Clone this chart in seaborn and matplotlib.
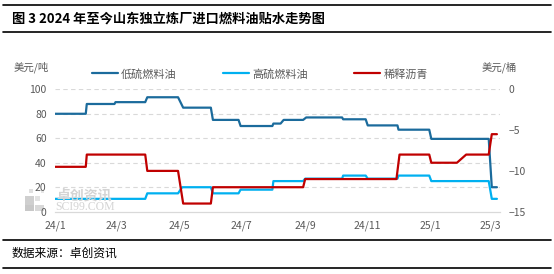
import matplotlib
matplotlib.use("Agg")
import matplotlib.pyplot as plt
from matplotlib.lines import Line2D
from matplotlib.patches import Rectangle
import seaborn as sns
import pandas as pd

sns.set_theme(style="white")
plt.rcParams['font.family'] = ['Noto Sans CJK SC', 'DejaVu Sans']

title = "图 3 2024 年至今山东独立炼厂进口燃料油贴水走势图"
source = "数据来源：卓创资讯"
left_unit = "美元/吨"
right_unit = "美元/桶"
series_names = ["低硫燃料油", "高硫燃料油", "稀释沥青"]

ls_dates = ["2024-01-01", "2024-01-31", "2024-02-01", "2024-02-28", "2024-02-29", "2024-03-29",
            "2024-03-31", "2024-04-30", "2024-05-05", "2024-06-01", "2024-06-03", "2024-06-28",
            "2024-06-30", "2024-07-31", "2024-08-01", "2024-08-08", "2024-08-11", "2024-08-30",
            "2024-09-02", "2024-10-07", "2024-10-08", "2024-10-30", "2024-11-01", "2024-11-30",
            "2024-12-01", "2024-12-31", "2025-01-02", "2025-02-27", "2025-03-02", "2025-03-07"]
ls_vals = [80, 80, 88, 88, 89.5, 89.5, 93.5, 93.5, 85, 85, 75, 75, 70, 70, 72, 72, 75, 75,
           77, 77, 75.5, 75.5, 70.5, 70.5, 67, 67, 59.5, 59.5, 20, 20]

hs_dates = ["2024-01-01", "2024-03-29", "2024-03-31", "2024-04-30", "2024-05-04", "2024-06-01",
            "2024-06-03", "2024-06-28", "2024-06-30", "2024-07-31", "2024-08-01", "2024-08-30",
            "2024-09-01", "2024-10-07", "2024-10-08", "2024-10-30", "2024-11-01", "2024-11-30",
            "2024-12-01", "2024-12-31", "2025-01-02", "2025-02-27", "2025-03-02", "2025-03-07"]
hs_vals = [10.5, 10.5, 15, 15, 20, 20, 15, 15, 18, 18, 25, 25, 27, 27, 29.5, 29.5, 27, 27,
           29.5, 29.5, 25, 25, 10.5, 10.5]

bit_dates = ["2024-01-01", "2024-01-31", "2024-02-01", "2024-03-29", "2024-03-31", "2024-04-30",
             "2024-05-05", "2024-06-01", "2024-06-03", "2024-08-30", "2024-09-01", "2024-11-29",
             "2024-12-02", "2024-12-31", "2025-01-02", "2025-01-27", "2025-02-05", "2025-02-27",
             "2025-03-02", "2025-03-07"]
bit_vals = [-9.5, -9.5, -8, -8, -10, -10, -14, -14, -12, -12, -11, -11, -8, -8, -9, -9, -8, -8,
            -5.5, -5.5]

x_ticks = ["2024-01-01", "2024-03-01", "2024-05-01", "2024-07-01", "2024-09-01",
           "2024-11-01", "2025-01-01", "2025-03-01"]
x_labels = ["24/1", "24/3", "24/5", "24/7", "24/9", "24/11", "25/1", "25/3"]
left_ticks = [0, 20, 40, 60, 80, 100]
right_ticks = [-15, -10, -5, 0]

c_ls = "#1B6B9C"
c_hs = "#00B0F0"
c_bit = "#C00000"
txt_gray = "#595959"

df_ls = pd.DataFrame({"date": pd.to_datetime(ls_dates), "v": ls_vals})
df_hs = pd.DataFrame({"date": pd.to_datetime(hs_dates), "v": hs_vals})
df_bit = pd.DataFrame({"date": pd.to_datetime(bit_dates), "v": bit_vals})

fig = plt.figure(figsize=(5.54, 2.74), dpi=100)

# watermark (behind plot)
wm = "#D4D4D4"
for (x0, y0, w, h, c) in [(25, 196, 9, 9, "#CFCFCF"), (25, 205, 9, 6, "#C8C8C8"),
                          (35, 205, 9, 6, "#D8D8D8"), (35, 196, 5, 5, "#E2E2E2"),
                          (29, 189, 4, 4, "#E0E0E0"), (41, 190, 3, 3, "#E6E6E6")]:
    fig.add_artist(Rectangle((x0 / 554, 1 - (y0 + h) / 274), w / 554, h / 274,
                             transform=fig.transFigure, facecolor=c, edgecolor="none",
                             zorder=0))
fig.text(56 / 554, 1 - 195 / 274, "卓创资讯", fontsize=10, color=wm, va="center",
         fontweight="bold", zorder=0)
fig.text(55 / 554, 1 - 206.5 / 274, "SCI99.COM", fontsize=8.5, color=wm, va="center",
         family=["Liberation Serif", "DejaVu Serif"], zorder=0)

ax = fig.add_axes([55 / 554, 1 - 211.7 / 274, 445 / 554, (211.7 - 89.3) / 274])
ax.patch.set_alpha(0)
ax2 = ax.twinx()

sns.lineplot(data=df_ls, x="date", y="v", ax=ax, color=c_ls, linewidth=1.6,
             estimator=None, sort=False, label=series_names[0], legend=False)
sns.lineplot(data=df_hs, x="date", y="v", ax=ax, color=c_hs, linewidth=1.6,
             estimator=None, sort=False, label=series_names[1], legend=False)
sns.lineplot(data=df_bit, x="date", y="v", ax=ax2, color=c_bit, linewidth=1.6,
             estimator=None, sort=False, label=series_names[2], legend=False)

ax.set_xlim(pd.Timestamp("2024-01-01"), pd.Timestamp("2025-03-10"))
ax.set_ylim(0, 100)
ax2.set_ylim(-15, 0)
ax.set_yticks(left_ticks)
ax2.set_yticks(right_ticks)
ax.set_xticks(pd.to_datetime(x_ticks))
ax.set_xticklabels(x_labels)
ax.set_xlabel("")
ax.set_ylabel("")
ax2.set_ylabel("")

for y in left_ticks[1:]:
    ax.axhline(y, color="#D9D9D9", linewidth=0.8, linestyle=(0, (4, 3)), zorder=0)

for a in (ax, ax2):
    for s in ("left", "right", "top"):
        a.spines[s].set_visible(False)
ax.spines["bottom"].set_color("#D9D9D9")
ax.spines["bottom"].set_linewidth(0.9)
ax2.spines["bottom"].set_visible(False)

ax.tick_params(axis="y", length=0, labelsize=7.5, labelcolor=txt_gray, pad=6)
ax2.tick_params(axis="y", length=0, labelsize=7.5, labelcolor=txt_gray, pad=6)
ax.tick_params(axis="x", length=3, color="#D9D9D9", width=0.9, direction="out",
               labelsize=7.5, labelcolor=txt_gray, pad=3)

# units
fig.text(14 / 554, 1 - 67 / 274, left_unit, fontsize=7.5, color=txt_gray, va="center")
fig.text(482 / 554, 1 - 67 / 274, right_unit, fontsize=7.5, color=txt_gray, va="center")

# legend
handles = [Line2D([], [], color=c, linewidth=1.6) for c in (c_ls, c_hs, c_bit)]
fig.legend(handles, series_names, loc="center", bbox_to_anchor=(260 / 554, 1 - 74 / 274),
           ncol=3, frameon=False, fontsize=8, handlelength=2.3, handletextpad=0.3,
           columnspacing=4.2, labelcolor=txt_gray)

# title and source
fig.text(12 / 554, 1 - 18.5 / 274, title, fontsize=9.5, fontweight="bold", color="black",
         va="center")
fig.text(12 / 554, 1 - 253 / 274, source, fontsize=8.5, color="black", va="center")

for yy in (4.5, 31.5, 240, 267.5):
    fig.add_artist(Line2D([3 / 554, 551 / 554], [1 - yy / 274, 1 - yy / 274],
                          color="black", linewidth=1.2, transform=fig.transFigure))

fig.savefig("out.png", dpi=100)
